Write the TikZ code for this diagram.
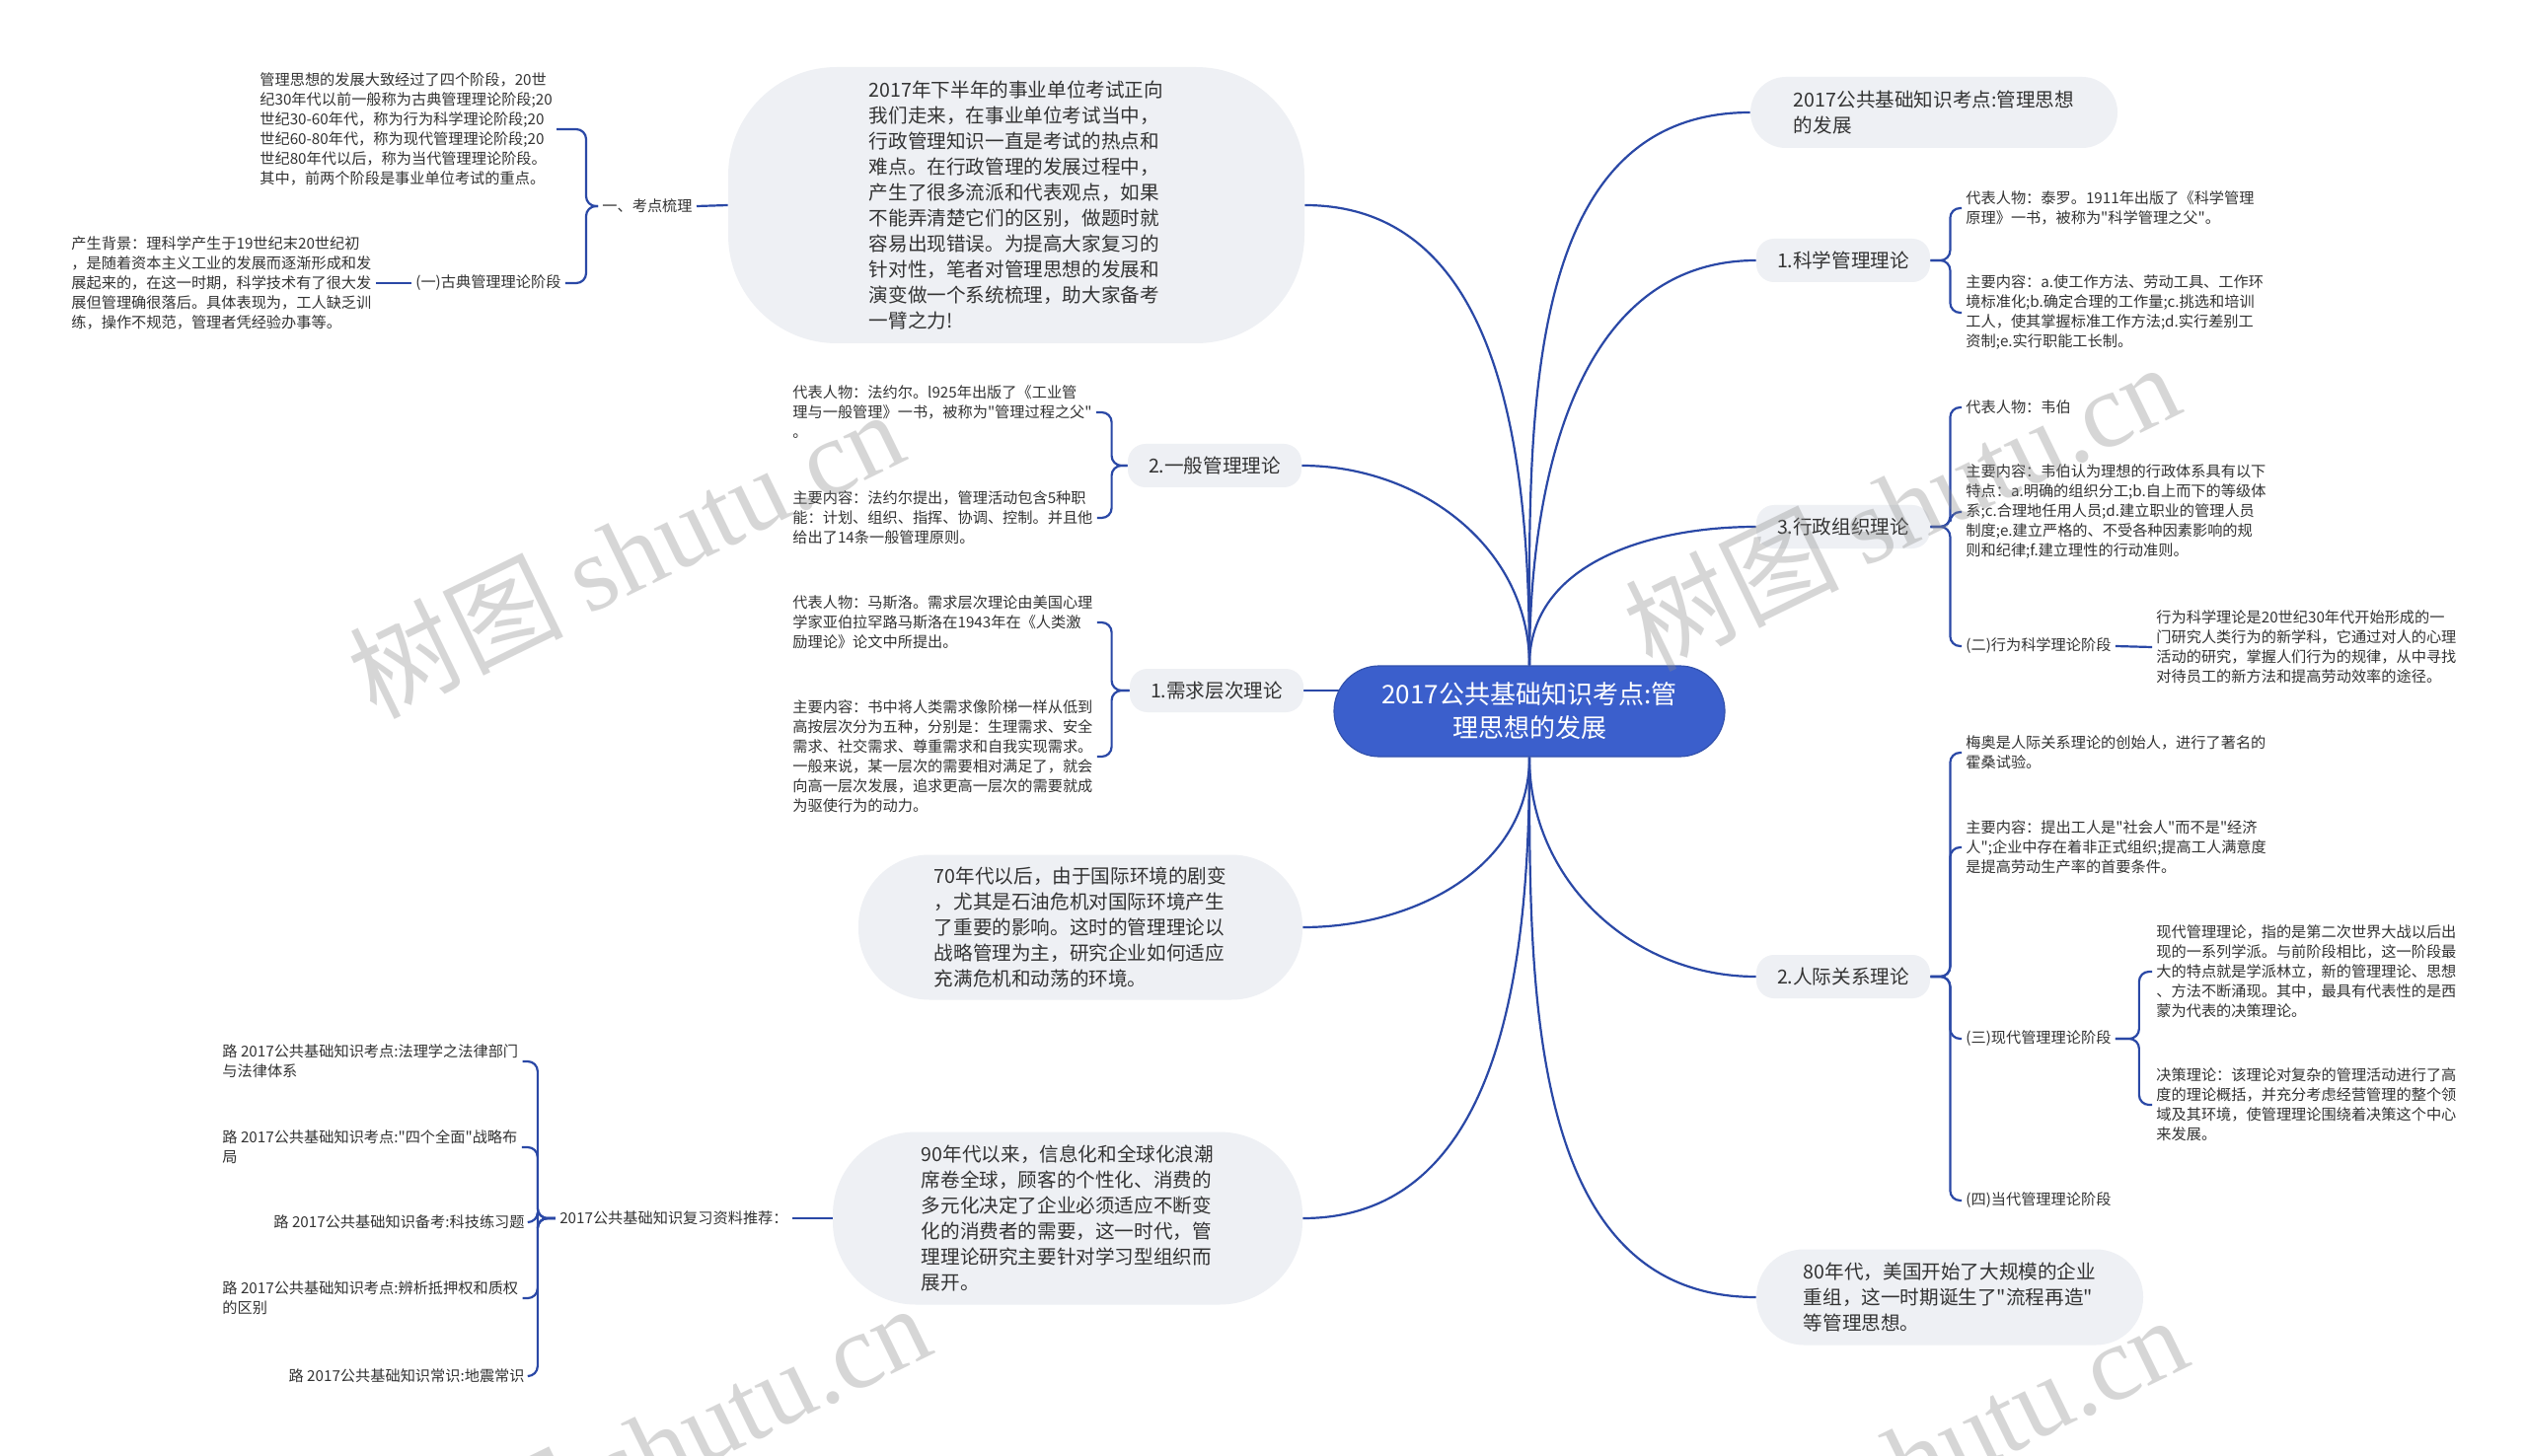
\documentclass[tikz,border=0pt]{standalone}
\usepackage{fontspec}
\setmainfont{Noto Sans CJK SC}[Ligatures=TeXOff]
\newfontfamily\wmserif{Liberation Serif}
\definecolor{linec}{HTML}{2A48A6}
\definecolor{bub}{HTML}{EEF0F4}
\definecolor{rootc}{HTML}{3B5FCC}
\definecolor{txt}{HTML}{333333}
\newcommand\fsmall{\fontsize{7.6pt}{10pt}\selectfont}
\newcommand\fmid{\fontsize{9.8pt}{13pt}\selectfont}
\newcommand\froot{\fontsize{13pt}{17pt}\selectfont}
\newcommand\fwm{\fontsize{54pt}{54pt}\selectfont}
\pgfdeclarelayer{bg}
\pgfdeclarelayer{fg}
\pgfsetlayers{bg,main,fg}
\begin{document}
\begin{tikzpicture}[x=0.5pt,y=-0.5pt,
  rootn/.style={fill=rootc, draw=rootc!85!black, line width=0.6pt, text=white, font=\froot, align=center, minimum width=198pt, minimum height=46pt, rounded corners=23pt},
  bubble/.style={fill=bub, align=left, font=\fmid, text=txt},
  topic/.style={fill=bub, font=\fmid, text=txt, minimum width=88pt, minimum height=22pt, rounded corners=9pt, inner xsep=0pt},
  leaf/.style={font=\fsmall, align=left, text=txt, inner xsep=2pt, inner ysep=1pt},
  conn/.style={draw=linec, line width=1.1pt},
  br/.style={conn, rounded corners=5pt},
  wm/.style={font=\fwm, text=black!45, opacity=0.35, rotate=26}
]
\useasboundingbox (0,0) rectangle (2560,1476);
\begin{pgfonlayer}{bg}
\fill[white] (0,0) rectangle (2560,1476);
\end{pgfonlayer}

% root
\node[rootn] (root) at (1550,721) {2017公共基础知识考点:管\\理思想的发展};

% ---------- left side ----------
\node[bubble, minimum width=292pt, minimum height=140pt, rounded corners=55pt] (intro) at (1030,208) {2017年下半年的事业单位考试正向\\我们走来，在事业单位考试当中，\\行政管理知识一直是考试的热点和\\难点。在行政管理的发展过程中，\\产生了很多流派和代表观点，如果\\不能弄清楚它们的区别，做题时就\\容易出现错误。为提高大家复习的\\针对性，笔者对管理思想的发展和\\演变做一个系统梳理，助大家备考\\一臂之力!};

\node[leaf, anchor=east] (k1) at (706,209) {一、考点梳理};
\node[leaf, anchor=west] (p1) at (259,131) {管理思想的发展大致经过了四个阶段，20世\\纪30年代以前一般称为古典管理理论阶段;20\\世纪30-60年代，称为行为科学理论阶段;20\\世纪60-80年代，称为现代管理理论阶段;20\\世纪80年代以后，称为当代管理理论阶段。\\其中，前两个阶段是事业单位考试的重点。};
\node[leaf, anchor=west] (gd) at (417,287) {(一)古典管理理论阶段};
\node[leaf, anchor=west] (bj) at (68,287) {产生背景：理科学产生于19世纪末20世纪初\\，是随着资本主义工业的发展而逐渐形成和发\\展起来的，在这一时期，科学技术有了很大发\\展但管理确很落后。具体表现为，工人缺乏训\\练，操作不规范，管理者凭经验办事等。};

\node[topic] (n2) at (1231,472) {2.一般管理理论};
\node[leaf, anchor=west] (n2a) at (799,418) {代表人物：法约尔。l925年出版了《工业管\\理与一般管理》一书，被称为"管理过程之父"\\。};
\node[leaf, anchor=west] (n2b) at (799,525) {主要内容：法约尔提出，管理活动包含5种职\\能：计划、组织、指挥、协调、控制。并且他\\给出了14条一般管理原则。};

\node[topic] (n1) at (1233,700) {1.需求层次理论};
\node[leaf, anchor=west] (n1a) at (799,631) {代表人物：马斯洛。需求层次理论由美国心理\\学家亚伯拉罕路马斯洛在1943年在《人类激\\励理论》论文中所提出。};
\node[leaf, anchor=west] (n1b) at (799,767) {主要内容：书中将人类需求像阶梯一样从低到\\高按层次分为五种，分别是：生理需求、安全\\需求、社交需求、尊重需求和自我实现需求。\\一般来说，某一层次的需要相对满足了，就会\\向高一层次发展，追求更高一层次的需要就成\\为驱使行为的动力。};

\node[bubble, minimum width=225pt, minimum height=73.5pt, rounded corners=36pt] (b70) at (1095,940) {70年代以后，由于国际环境的剧变\\，尤其是石油危机对国际环境产生\\了重要的影响。这时的管理理论以\\战略管理为主，研究企业如何适应\\充满危机和动荡的环境。};

\node[bubble, minimum width=238pt, minimum height=87.5pt, rounded corners=42pt] (b90) at (1082,1235) {90年代以来，信息化和全球化浪潮\\席卷全球，顾客的个性化、消费的\\多元化决定了企业必须适应不断变\\化的消费者的需要，这一时代，管\\理理论研究主要针对学习型组织而\\展开。};

\node[leaf, anchor=east] (rec) at (803,1235) {2017公共基础知识复习资料推荐：};
\node[leaf, anchor=west] (c1) at (221,1076) {路 2017公共基础知识考点:法理学之法律部门\\与法律体系};
\node[leaf, anchor=west] (c2) at (221,1163) {路 2017公共基础知识考点:"四个全面"战略布\\局};
\node[leaf, anchor=east] (c3) at (536,1239) {路 2017公共基础知识备考:科技练习题};
\node[leaf, anchor=west] (c4) at (221,1316) {路 2017公共基础知识考点:辨析抵押权和质权\\的区别};
\node[leaf, anchor=east] (c5) at (536,1395) {路 2017公共基础知识常识:地震常识};

% ---------- right side ----------
\node[bubble, minimum width=186pt, minimum height=36pt, rounded corners=18pt] (r0) at (1960,114) {2017公共基础知识考点:管理思想\\的发展};

\node[topic] (t1) at (1868,264) {1.科学管理理论};
\node[leaf, anchor=west] (t1a) at (1988,211) {代表人物：泰罗。1911年出版了《科学管理\\原理》一书，被称为"科学管理之父"。};
\node[leaf, anchor=west] (t1b) at (1988,317) {主要内容：a.使工作方法、劳动工具、工作环\\境标准化;b.确定合理的工作量;c.挑选和培训\\工人，使其掌握标准工作方法;d.实行差别工\\资制;e.实行职能工长制。};

\node[topic] (t3) at (1868,534) {3.行政组织理论};
\node[leaf, anchor=west] (t3a) at (1988,413) {代表人物：韦伯};
\node[leaf, anchor=west] (t3b) at (1988,519) {主要内容：韦伯认为理想的行政体系具有以下\\特点：a.明确的组织分工;b.自上而下的等级体\\系;c.合理地任用人员;d.建立职业的管理人员\\制度;e.建立严格的、不受各种因素影响的规\\则和纪律;f.建立理性的行动准则。};
\node[leaf, anchor=west] (xw) at (1988,655) {(二)行为科学理论阶段};
\node[leaf, anchor=west] (xwp) at (2181,656) {行为科学理论是20世纪30年代开始形成的一\\门研究人类行为的新学科，它通过对人的心理\\活动的研究，掌握人们行为的规律，从中寻找\\对待员工的新方法和提高劳动效率的途径。};

\node[topic] (t2) at (1868,990) {2.人际关系理论};
\node[leaf, anchor=west] (t2a) at (1988,763) {梅奥是人际关系理论的创始人，进行了著名的\\霍桑试验。};
\node[leaf, anchor=west] (t2b) at (1988,859) {主要内容：提出工人是"社会人"而不是"经济\\人";企业中存在着非正式组织;提高工人满意度\\是提高劳动生产率的首要条件。};
\node[leaf, anchor=west] (xd) at (1988,1053) {(三)现代管理理论阶段};
\node[leaf, anchor=west] (xda) at (2181,985) {现代管理理论，指的是第二次世界大战以后出\\现的一系列学派。与前阶段相比，这一阶段最\\大的特点就是学派林立，新的管理理论、思想\\、方法不断涌现。其中，最具有代表性的是西\\蒙为代表的决策理论。};
\node[leaf, anchor=west] (xdb) at (2181,1120) {决策理论：该理论对复杂的管理活动进行了高\\度的理论概括，并充分考虑经营管理的整个领\\域及其环境，使管理理论围绕着决策这个中心\\来发展。};
\node[leaf, anchor=west] (dd) at (1988,1217) {(四)当代管理理论阶段};

\node[bubble, minimum width=196pt, minimum height=48.5pt, rounded corners=24pt] (b80) at (1976,1315) {80年代，美国开始了大规模的企业\\重组，这一时期诞生了"流程再造"\\等管理思想。};

% ---------- connectors ----------
\begin{pgfonlayer}{bg}
\draw[conn] (root.north) to[out=90,in=0] (intro.east);
\draw[conn] (root.north) to[out=90,in=0] (n2.east);
\draw[conn] (n1.east) -- (n1.east -| root.center);
\draw[conn] (root.south) to[out=-90,in=0] (b70.east);
\draw[conn] (root.south) to[out=-90,in=0] (b90.east);
\draw[conn] (root.north) to[out=90,in=180] (r0.west);
\draw[conn] (root.north) to[out=90,in=180] (t1.west);
\draw[conn] (root.north) to[out=90,in=180] (t3.west);
\draw[conn] (root.south) to[out=-90,in=180] (t2.west);
\draw[conn] (root.south) to[out=-90,in=180] (b80.west);

\draw[conn] (intro.west) -- (k1.east);
\draw[br] (k1.west) -- ++(-12,0) |- (p1.east);
\draw[br] (k1.west) -- ++(-12,0) |- (gd.east);
\draw[conn] (gd.west) -- (bj.east);

\draw[br] (n2.west) -- ++(-16,0) |- (n2a.east);
\draw[br] (n2.west) -- ++(-16,0) |- (n2b.east);
\draw[br] (n1.west) -- ++(-18,0) |- (n1a.east);
\draw[br] (n1.west) -- ++(-18,0) |- (n1b.east);

\draw[conn] (b90.west) -- (rec.east);
\draw[br] (rec.west) -- ++(-18,0) |- (c1.east);
\draw[br] (rec.west) -- ++(-18,0) |- (c2.east);
\draw[br] (rec.west) -- ++(-18,0) |- (c3.east);
\draw[br] (rec.west) -- ++(-18,0) |- (c4.east);
\draw[br] (rec.west) -- ++(-18,0) |- (c5.east);

\draw[br] (t1.east) -- ++(20,0) |- (t1a.west);
\draw[br] (t1.east) -- ++(20,0) |- (t1b.west);
\draw[br] (t3.east) -- ++(20,0) |- (t3a.west);
\draw[br] (t3.east) -- ++(20,0) |- (t3b.west);
\draw[br] (t3.east) -- ++(20,0) |- (xw.west);
\draw[conn] (xw.east) -- (xwp.west);
\draw[br] (t2.east) -- ++(20,0) |- (t2a.west);
\draw[br] (t2.east) -- ++(20,0) |- (t2b.west);
\draw[br] (t2.east) -- ++(20,0) |- (xd.west);
\draw[br] (t2.east) -- ++(20,0) |- (dd.west);
\draw[br] (xd.east) -- ++(24,0) |- (xda.west);
\draw[br] (xd.east) -- ++(24,0) |- (xdb.west);
\end{pgfonlayer}

% ---------- watermarks ----------
\begin{pgfonlayer}{fg}
\node[wm] (wm1) at (634,560) {树图 {\wmserif shutu.cn}};
\node[wm] (wm2) at (1927,512) {树图 {\wmserif shutu.cn}};
\node[wm] (wm3) at (661,1466) {树图 {\wmserif shutu.cn}};
\node[wm] (wm4) at (1935,1478) {树图 {\wmserif shutu.cn}};
\end{pgfonlayer}
\end{tikzpicture}
\end{document}
